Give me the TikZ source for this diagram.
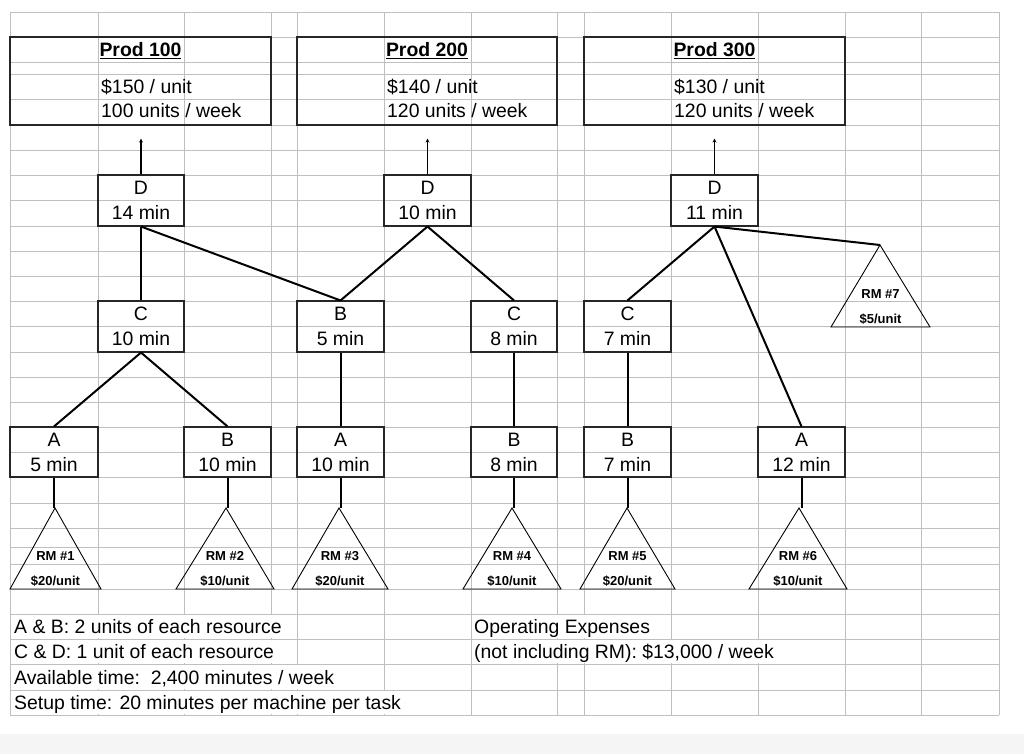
\documentclass[tikz,border=0pt]{standalone}
\usepackage{fontspec}
\setmainfont{Liberation Sans}
\usetikzlibrary{arrows.meta}
\begin{document}
\begin{tikzpicture}[x=1pt,y=-1pt,
  grid/.style={draw=black!25,line width=0.9pt},
  box/.style={draw=black!85,line width=1.1pt,rectangle,inner sep=0pt},
  lbl/.style={anchor=base,inner sep=0pt,font=\fontsize{19.4}{22}\selectfont},
  lbll/.style={anchor=base west,inner sep=0pt,font=\fontsize{19.4}{22}\selectfont},
  rm/.style={anchor=base,inner sep=0pt,font=\bfseries\fontsize{13}{15}\selectfont},
  conn/.style={draw=black,line width=2pt},
  tri/.style={draw=black,line width=0.9pt},
  arr/.style={draw=black,line width=1.2pt,-{Stealth[length=4pt,width=4pt]},shorten >=13pt}]
\useasboundingbox (0,0) rectangle (1024,754);
\fill[black!4] (0,734) rectangle (1024,754);
% grid
\foreach \y in {12,37,62,74,99,125,150,175,200,226,251,276,301,326,352,377,402,427,452,477,503,528,547,564,589,614,639,664,690,715}
  \draw[grid] (10,\y) -- (999,\y);
\foreach \x in {10,98,184,271,297,384,471,557,584,671,758,845,921,999}
  \draw[grid] (\x,12) -- (\x,715);
% merged text cells
\fill[white] (11,615) rectangle (296,638);
\fill[white] (11,640) rectangle (296,663);
\fill[white] (11,665) rectangle (383,689);
\fill[white] (11,691) rectangle (470,714);
\fill[white] (472,615) rectangle (670,638);
\fill[white] (472,640) rectangle (844,663);
% product boxes
\node[box,minimum width=261pt,minimum height=88pt] (p1) at (140.5,81) {};
\node[box,minimum width=260pt,minimum height=88pt] (p2) at (427,81) {};
\node[box,minimum width=261pt,minimum height=88pt] (p3) at (714.5,81) {};
\node[lbl,font=\bfseries\fontsize{19.4}{22}\selectfont] at (140.5,57) {\underline{Prod 100}};
\node[lbl,font=\bfseries\fontsize{19.4}{22}\selectfont] at (427,57) {\underline{Prod 200}};
\node[lbl,font=\bfseries\fontsize{19.4}{22}\selectfont] at (714.5,57) {\underline{Prod 300}};
\node[lbll] at (101,94) {\$150 / unit};
\node[lbll] at (101,118) {100 units / week};
\node[lbll] at (387,94) {\$140 / unit};
\node[lbll] at (387,118) {120 units / week};
\node[lbll] at (674,94) {\$130 / unit};
\node[lbll] at (674,118) {120 units / week};
% task boxes
\node[box,minimum width=86pt,minimum height=51pt] (d1) at (141,200.5) {};
\node[box,minimum width=87pt,minimum height=51pt] (d2) at (427.5,200.5) {};
\node[box,minimum width=87pt,minimum height=51pt] (d3) at (714.5,200.5) {};
\node[box,minimum width=86pt,minimum height=51pt] (c1) at (141,326.5) {};
\node[box,minimum width=87pt,minimum height=51pt] (b2) at (340.5,326.5) {};
\node[box,minimum width=86pt,minimum height=51pt] (c2) at (514,326.5) {};
\node[box,minimum width=87pt,minimum height=51pt] (c3) at (627.5,326.5) {};
\node[box,minimum width=88pt,minimum height=50pt] (a1) at (54,452) {};
\node[box,minimum width=87pt,minimum height=50pt] (b1) at (227.5,452) {};
\node[box,minimum width=87pt,minimum height=50pt] (a2) at (340.5,452) {};
\node[box,minimum width=86pt,minimum height=50pt] (b3) at (514,452) {};
\node[box,minimum width=87pt,minimum height=50pt] (b4) at (627.5,452) {};
\node[box,minimum width=87pt,minimum height=50pt] (a3) at (801.5,452) {};
\foreach \x/\y/\t/\m in {141/200/D/14 min,427.5/200/D/10 min,714.5/200/D/11 min,
  141/326/C/10 min,340.5/326/B/5 min,514/326/C/8 min,627.5/326/C/7 min,
  54/452/A/5 min,227.5/452/B/10 min,340.5/452/A/10 min,514/452/B/8 min,627.5/452/B/7 min,801.5/452/A/12 min}{
  \node[lbl] at (\x,\y-5.5) {\t};
  \node[lbl] at (\x,\y+19.5) {\m};
}
% arrows to products
\draw[arr] (d1.north) -- (d1.north |- p1.south);
\draw[arr] (d2.north) -- (d2.north |- p2.south);
\draw[arr] (d3.north) -- (d3.north |- p3.south);
% triangles
\foreach \n/\ax/\ay/\l/\r/\by/\t/\p in {t1/55/508/10/101/589/{RM \#1}/{\$20/unit},
  t2/226/508/176/274/589/{RM \#2}/{\$10/unit},
  t3/339/508/292/388/589/{RM \#3}/{\$20/unit},
  t4/512/508/463/561/589/{RM \#4}/{\$10/unit},
  t5/627/508/580/675/589/{RM \#5}/{\$20/unit},
  t6/799/508/749/847/589/{RM \#6}/{\$10/unit},
  t7/880/245/831/930/327/{RM \#7}/{\$5/unit}}{
  \coordinate (\n) at (\ax,\ay);
  \draw[tri] (\n) -- (\l,\by) -- (\r,\by) -- cycle;
  \node[rm] at ({(\l+\r)/2},\by-29) {\t};
  \node[rm] at ({(\l+\r)/2},\by-4) {\p};
}
% connectors
\draw[conn] (d1.south) -- (c1.north);
\draw[conn] (d1.south) -- (b2.north);
\draw[conn] (d2.south) -- (b2.north);
\draw[conn] (d2.south) -- (c2.north);
\draw[conn] (d3.south) -- (c3.north);
\draw[conn] (d3.south) -- (a3.north);
\draw[conn] (d3.south) -- (t7);
\draw[conn] (c1.south) -- (a1.north);
\draw[conn] (c1.south) -- (b1.north);
\draw[conn] (b2.south) -- (a2.north);
\draw[conn] (c2.south) -- (b3.north);
\draw[conn] (c3.south) -- (b4.north);
\draw[conn] (a1.south) -- (a1.south |- t1);
\draw[conn] (b1.south) -- (b1.south |- t2);
\draw[conn] (a2.south) -- (a2.south |- t3);
\draw[conn] (b3.south) -- (b3.south |- t4);
\draw[conn] (b4.south) -- (b4.south |- t5);
\draw[conn] (a3.south) -- (a3.south |- t6);
% notes
\node[lbll] at (14,633) {A \& B: 2 units of each resource};
\node[lbll] at (14,658) {C \& D: 1 unit of each resource};
\node[lbll] at (14,684) {Available time:\ \ 2,400 minutes / week};
\node[lbll] at (14,709) {Setup time: 20 minutes per machine per task};
\node[lbll] at (474,633) {Operating Expenses};
\node[lbll] at (474,658) {(not including RM): \$13,000 / week};
\end{tikzpicture}
\end{document}
